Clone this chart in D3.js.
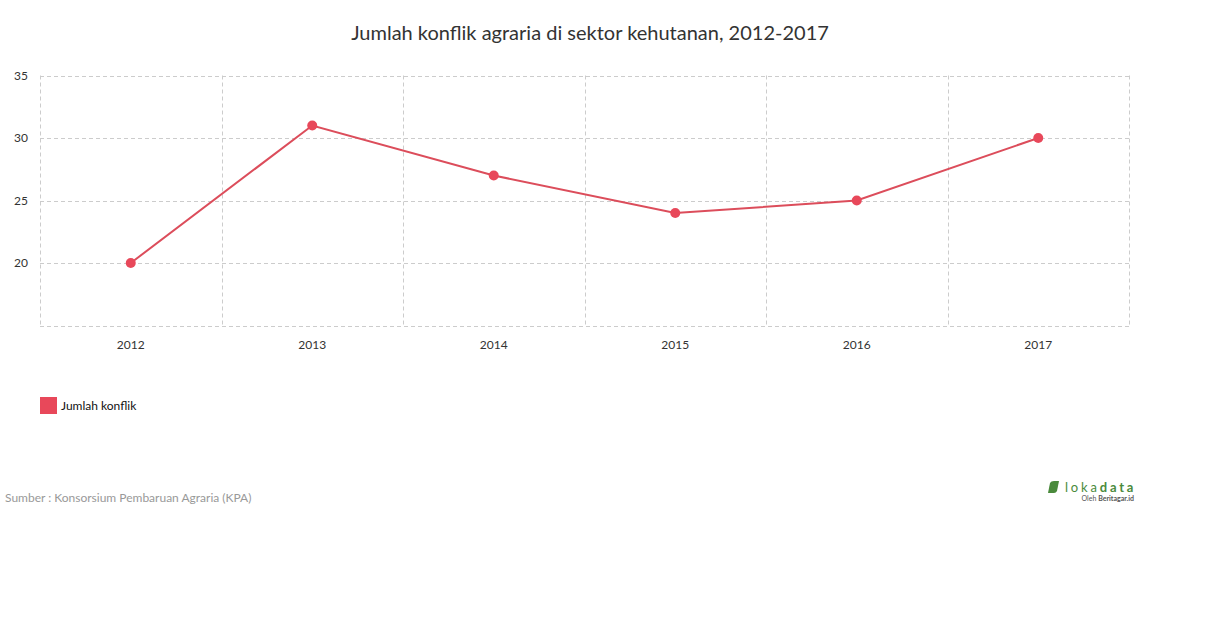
<!DOCTYPE html>
<html><head><meta charset="utf-8">
<script src="https://cdnjs.cloudflare.com/ajax/libs/d3/7.8.5/d3.min.js"></script>
<style>
body{margin:0;background:#fff;font-family:Lato,"Open Sans",sans-serif;}
</style></head><body><svg id="c" width="1210" height="628"></svg>
<script>
const categories = ["2012","2013","2014","2015","2016","2017"];
const values = [20,31,27,24,25,30];
const yTicks = [20,25,30,35];
const seriesName = "Jumlah konflik";

const svg = d3.select("#c");
const L=40,R=1129,T=75.5,B=325.5;
const x = d3.scaleBand().domain(categories).range([L,R]);
const y = d3.scaleLinear().domain([15,35]).range([B,T]);

svg.append("text").attr("x",590).attr("y",40).attr("text-anchor","middle")
  .attr("font-size",20).attr("fill","#333").text("Jumlah konflik agraria di sektor kehutanan, 2012-2017");

const g = svg.append("g");
g.selectAll("line.h").data([15,...yTicks]).join("line")
  .attr("x1",L).attr("x2",R).attr("y1",d=>Math.round(y(d))+0.5).attr("y2",d=>Math.round(y(d))+0.5)
  .attr("stroke","#ccc").attr("stroke-dasharray","4,3");
const vb = categories.map(c=>x(c)).concat([R]);
g.selectAll("line.v").data(vb).join("line")
  .attr("x1",d=>Math.round(d)+0.5).attr("x2",d=>Math.round(d)+0.5).attr("y1",T).attr("y2",B)
  .attr("stroke","#ccc").attr("stroke-dasharray","4,3");

g.selectAll("text.y").data(yTicks).join("text")
  .attr("x",28).attr("y",d=>y(d)).attr("dy","0.35em").attr("text-anchor","end")
  .attr("font-size",12).attr("fill","#333").text(d=>d);
g.selectAll("text.x").data(categories).join("text")
  .attr("x",d=>x(d)+x.bandwidth()/2).attr("y",349).attr("text-anchor","middle")
  .attr("font-size",12).attr("fill","#333").text(d=>d);

const line = d3.line().x((d,i)=>x(categories[i])+x.bandwidth()/2).y(d=>y(d));
svg.append("path").datum(values).attr("d",line).attr("fill","none")
  .attr("stroke","#dc4d5b").attr("stroke-width",2);
svg.selectAll("circle").data(values).join("circle")
  .attr("cx",(d,i)=>x(categories[i])+x.bandwidth()/2).attr("cy",d=>y(d)).attr("r",5)
  .attr("fill","#e8485a");

svg.append("rect").attr("x",40).attr("y",397).attr("width",17).attr("height",17).attr("fill","#e8485a");
svg.append("text").attr("x",61).attr("y",406).attr("dy","0.35em").attr("font-size",12).attr("fill","#111").text(seriesName);

svg.append("text").attr("x",5).attr("y",501.5).attr("font-size",12).attr("fill","#999").text("Sumber : Konsorsium Pembaruan Agraria (KPA)");

const lg = svg.append("g");
lg.append("path").attr("d","M1048,493 L1050,483 Q1051,481 1054,481 L1059,481 L1057,491 Q1056,493 1054,493 Z").attr("fill","#4a8a3c");
lg.append("text").attr("x",1065).attr("y",492).attr("font-size",13).attr("letter-spacing","2.8").attr("fill","#4a8a3c")
  .html('<tspan>loka</tspan><tspan font-weight="bold">data</tspan>');
lg.append("text").attr("x",1134).attr("y",501).attr("text-anchor","end").attr("font-size",7).attr("fill","#555")
  .html('Oleh <tspan font-weight="bold">Beritagar.id</tspan>');
</script></body></html>
